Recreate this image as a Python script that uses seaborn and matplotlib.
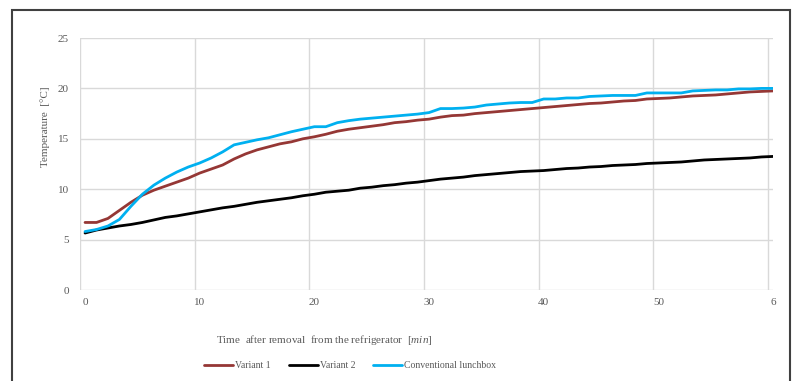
import numpy as np
import pandas as pd
import seaborn as sns
import matplotlib
matplotlib.use("Agg")
import matplotlib.pyplot as plt
from matplotlib.patches import Rectangle
from matplotlib.ticker import FixedLocator

minutes = list(range(0, 61))
variant1 = [6.7, 6.7, 7.1, 7.9, 8.7, 9.4, 9.9, 10.3, 10.7, 11.1,
            11.6, 12.0, 12.4, 13.0, 13.5, 13.9, 14.2, 14.5, 14.7, 15.0,
            15.2, 15.45, 15.75, 15.95, 16.1, 16.25, 16.4, 16.6, 16.7, 16.85,
            16.95, 17.15, 17.3, 17.35, 17.5, 17.6, 17.7, 17.8, 17.9, 18.0,
            18.1, 18.2, 18.3, 18.4, 18.5, 18.55, 18.65, 18.75, 18.8, 18.95,
            19.0, 19.05, 19.15, 19.25, 19.3, 19.35, 19.45, 19.55, 19.65, 19.7,
            19.75]
variant2 = [5.65, 5.95, 6.15, 6.35, 6.5, 6.7, 6.95, 7.2, 7.35, 7.55,
            7.75, 7.95, 8.15, 8.3, 8.5, 8.7, 8.85, 9.0, 9.15, 9.35,
            9.5, 9.7, 9.8, 9.9, 10.1, 10.2, 10.35, 10.45, 10.6, 10.7,
            10.85, 11.0, 11.1, 11.2, 11.35, 11.45, 11.55, 11.65, 11.75, 11.8,
            11.85, 11.95, 12.05, 12.1, 12.2, 12.25, 12.35, 12.4, 12.45, 12.55,
            12.6, 12.65, 12.7, 12.8, 12.9, 12.95, 13.0, 13.05, 13.1, 13.2,
            13.25]
conventional = [5.8, 6.0, 6.35, 7.0, 8.3, 9.5, 10.4, 11.1, 11.7, 12.2,
                12.6, 13.1, 13.7, 14.4, 14.65, 14.9, 15.1, 15.4, 15.7, 15.95,
                16.2, 16.2, 16.6, 16.8, 16.95, 17.05, 17.15, 17.25, 17.35, 17.45,
                17.6, 18.0, 18.0, 18.05, 18.15, 18.35, 18.45, 18.55, 18.6, 18.6,
                18.95, 18.95, 19.05, 19.05, 19.2, 19.25, 19.3, 19.3, 19.3, 19.55,
                19.55, 19.55, 19.55, 19.75, 19.8, 19.85, 19.85, 19.95, 19.95, 20.0,
                20.0]
series_names = ["Variant 1", "Variant 2", "Conventional lunchbox"]
series_colors = ["#953735", "#000000", "#00B0F0"]
x_tick_values = [0, 10, 20, 30, 40, 50, 60]
x_tick_labels = ["0", "10", "20", "30", "40", "50", "6"]
y_tick_values = [0, 5, 10, 15, 20, 25]

sns.set_theme(style="white")
plt.rcParams["font.family"] = ["Liberation Serif", "DejaVu Serif"]
plt.rcParams["mathtext.fontset"] = "custom"
plt.rcParams["mathtext.rm"] = "Liberation Serif"
plt.rcParams["mathtext.it"] = "Liberation Serif:italic"

df = pd.DataFrame({
    "minute": minutes * 3,
    "temp": variant1 + variant2 + conventional,
    "series": [series_names[0]] * len(minutes) + [series_names[1]] * len(minutes)
              + [series_names[2]] * len(minutes),
})

W, H = 792, 381
fig = plt.figure(figsize=(W / 100, H / 100), dpi=100)
ax = fig.add_axes([80 / W, 1 - 290 / H, (773 - 80) / W, (290 - 38) / H])

sns.lineplot(data=df, x="minute", y="temp", hue="series", hue_order=series_names,
             palette=series_colors, linewidth=2.0, ax=ax, legend=False)

ax.set_xlim(-0.44, 60)
ax.set_ylim(0, 25)
ax.set_xticks(x_tick_values)
ax.set_xticklabels(x_tick_labels)
ax.set_yticks(y_tick_values)
ax.xaxis.set_minor_locator(FixedLocator([v - 0.44 for v in x_tick_values]))
ax.grid(False)
ax.grid(axis="y", which="major", color="#D9D9D9", linewidth=1.0)
ax.grid(axis="x", which="minor", color="#D9D9D9", linewidth=1.0)
ax.set_axisbelow(True)
for s in ax.spines.values():
    s.set_visible(False)
ax.tick_params(axis="both", which="both", length=0, labelsize=8, labelcolor="#595959")
ax.tick_params(axis="y", pad=8)
ax.tick_params(axis="x", pad=6)
ax.set_xlabel("")
ax.set_ylabel("")

fig.text(45 / W, 1 - 127 / H, "Temperature  [°C]", rotation=90, ha="center",
         va="center", fontsize=8, color="#595959")
fig.text(216 / W, 1 - 340 / H, r"Time  after removal  from the refrigerator  [$\mathit{min}$]",
         ha="left", va="center", fontsize=8, color="#595959")

handles = [plt.Line2D([], [], color=c, linewidth=2.0) for c in series_colors]
fig.legend(handles, series_names, loc="center", bbox_to_anchor=(350 / W, 1 - 366 / H),
           ncol=3, frameon=False, fontsize=7, handlelength=3.0, handletextpad=0.2,
           columnspacing=1.8, labelcolor="#595959")

fig.patches.append(Rectangle((12 / W, -0.1), (790 - 12) / W, 1.1 - 10 / H,
                             transform=fig.transFigure, fill=False,
                             edgecolor="#404040", linewidth=1.5))

fig.savefig("out.png", dpi=100, facecolor="white")
